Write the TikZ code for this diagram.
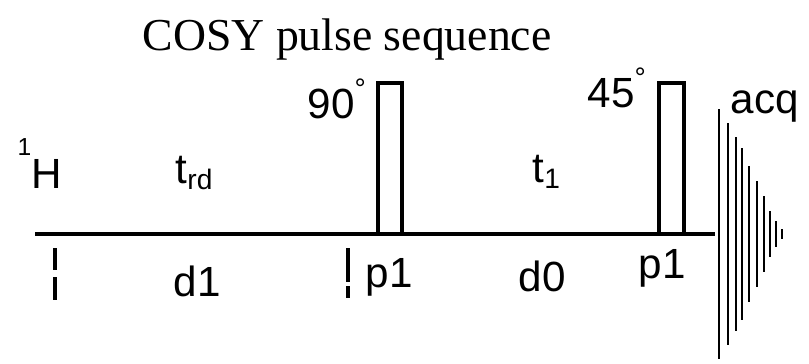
\documentclass[tikz,border=0pt]{standalone}
\usepackage{fontspec}
\setmainfont{Liberation Sans}
\newfontfamily\titlefont{Liberation Serif}
\usetikzlibrary{positioning}

\tikzset{
  lbl/.style={anchor=base west, inner sep=0pt},
  pulse/.style={line width=0.9pt},
  fid/.style={line width=0.45pt},
  tick/.style={line width=1pt}
}

\begin{document}
\begin{tikzpicture}[x=0.01cm, y=-0.01cm, font=\fontsize{12}{14}\selectfont]
  \useasboundingbox (0,0) rectangle (809,363);
  \def\by{234}\def\py{83}

  % title
  \node[lbl, font=\titlefont\fontsize{13}{15}\selectfont] (title) at (142,50) {COSY pulse sequence};

  % labels above the line
  \node[lbl] (nuc) at (17,188) {\raisebox{1.45ex}{\scriptsize 1}H};
  \node[lbl] (trd) at (175,183) {t\textsubscript{rd}};
  \node[lbl] (ang1) at (307,118) {90\textsuperscript{\raisebox{0.25ex}{°}}};
  \node[lbl] (tone) at (532,182) {t\textsubscript{1}};
  \node[lbl] (ang2) at (587,107) {45\textsuperscript{\raisebox{0.25ex}{°}}};
  \node[lbl] (acq) at (730,113) {acq};

  % labels below the line
  \node[lbl] (done) at (173,296) {d1};
  \node[lbl] (pa) at (365,287) {p1};
  \node[lbl] (dzero) at (518,291) {d0};
  \node[lbl] (pb) at (638,278) {p1};

  % start markers
  \draw[tick] (55,248)--(55,270) (55,277)--(55,300);
  \draw[tick] (348,248)--(348,282) (348,286)--(348,298);

  % pulses (drawn before the line)
  \draw[pulse] (378,\by) rectangle (402,\py);
  \draw[pulse] (659,\by) rectangle (684,\py);

  % 1H line
  \draw[line width=1.2pt] (35,\by)--(715,\by);

  % FID
  \foreach \x/\a in {719/125,728/111,736/97,742/86,749/68,757/53,764/38,770/23,776/13,782/5}
    \draw[fid] (\x,\by-\a)--(\x,\by+\a);
\end{tikzpicture}
\end{document}
